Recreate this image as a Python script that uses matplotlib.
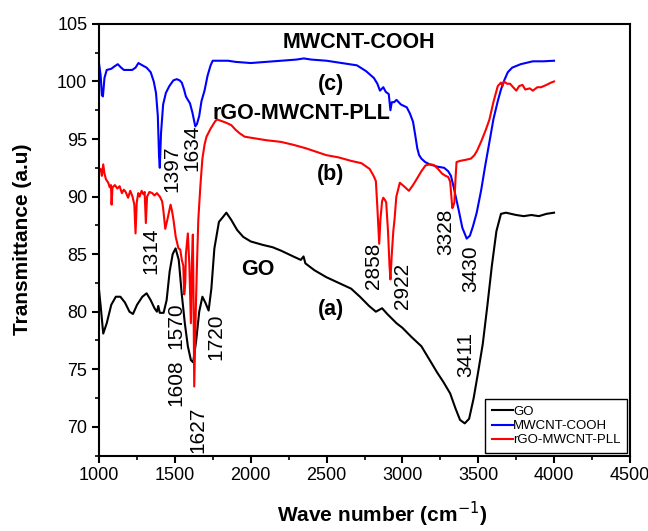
import numpy as np
import matplotlib
matplotlib.use("Agg")
import matplotlib.pyplot as plt
from matplotlib.ticker import MultipleLocator

plt.rcParams['font.family'] = ['Liberation Sans', 'DejaVu Sans']

# GO spectrum (wave number, transmittance)
go_wn = [1000, 1010, 1027, 1050, 1080, 1110, 1140, 1170, 1200, 1223, 1250, 1285,
         1313, 1340, 1365, 1381, 1390, 1400, 1425, 1445, 1465, 1485, 1504, 1525,
         1545, 1565, 1585, 1605, 1620, 1640, 1660, 1681, 1700, 1722, 1740, 1760,
         1790, 1815, 1839, 1870, 1910, 1950, 2000, 2080, 2144, 2200, 2280, 2330,
         2348, 2360, 2420, 2498, 2580, 2662, 2720, 2780, 2825, 2866, 2900, 2961,
         3000, 3060, 3125, 3180, 3230, 3270, 3315, 3350, 3380, 3411, 3440, 3470,
         3500, 3530, 3560, 3590, 3620, 3650, 3683, 3750, 3800, 3850, 3900, 3950,
         4000]
go_t = [81.8, 80.5, 78.1, 79.0, 80.6, 81.3, 81.3, 80.8, 80.0, 79.8, 80.6, 81.3,
        81.6, 81.0, 80.3, 80.0, 80.5, 79.9, 79.9, 81.0, 83.5, 85.0, 85.5, 84.5,
        81.5, 79.0, 77.0, 75.8, 75.6, 77.5, 80.0, 81.3, 80.8, 80.1, 82.0, 85.5,
        87.8, 88.2, 88.6, 88.0, 87.1, 86.5, 86.1, 85.8, 85.6, 85.3, 84.8, 84.5,
        84.8, 84.2, 83.6, 83.0, 82.5, 82.0, 81.3, 80.5, 80.0, 80.3, 79.8, 79.0,
        78.6, 77.8, 77.0, 75.8, 74.7, 73.9, 72.9, 71.6, 70.6, 70.3, 70.7, 72.5,
        74.8, 77.2, 80.5, 84.0, 87.0, 88.5, 88.6, 88.4, 88.3, 88.4, 88.3, 88.5,
        88.6]

# MWCNT-COOH spectrum
cnt_wn = [1000, 1010, 1018, 1025, 1035, 1050, 1080, 1100, 1123, 1145, 1163, 1190,
          1218, 1240, 1259, 1285, 1313, 1340, 1360, 1375, 1387, 1395, 1400, 1408,
          1422, 1440, 1463, 1490, 1512, 1530, 1545, 1560, 1572, 1585, 1599, 1615,
          1634, 1645, 1660, 1675, 1695, 1715, 1735, 1749, 1800, 1850, 1900, 2000,
          2100, 2200, 2300, 2350, 2400, 2500, 2600, 2700, 2760, 2812, 2835, 2852,
          2874, 2890, 2910, 2921, 2930, 2945, 2961, 2990, 3029, 3050, 3070, 3085,
          3098, 3110, 3125, 3150, 3179, 3230, 3275, 3302, 3320, 3335, 3355, 3370,
          3395, 3424, 3445, 3465, 3490, 3520, 3545, 3574, 3600, 3629, 3650, 3670,
          3695, 3724, 3780, 3860, 3930, 4000]
cnt_t = [101.5, 100.5, 98.8, 98.7, 100.3, 101.0, 101.1, 101.3, 101.5, 101.2, 101.0, 101.0,
         101.0, 101.2, 101.6, 101.4, 101.2, 100.8, 100.0, 99.0, 97.0, 93.5, 92.5, 95.5,
         98.0, 99.0, 99.6, 100.1, 100.2, 100.1, 99.9, 99.3, 98.7, 98.4, 98.1, 97.3,
         96.1, 96.3, 97.0, 98.3, 99.2, 100.5, 101.4, 101.8, 101.8, 101.8, 101.7, 101.6,
         101.7, 101.8, 101.9, 102.0, 101.9, 101.8, 101.6, 101.4, 100.9, 100.3, 99.8, 99.2,
         99.5, 99.1, 98.9, 97.5, 98.2, 98.2, 98.4, 98.0, 97.75, 97.2, 96.5, 95.3,
         94.2, 93.6, 93.3, 93.0, 92.8, 92.6, 92.5, 92.2, 91.8, 91.0, 89.8, 88.9,
         87.3, 86.35, 86.6, 87.4, 88.6, 90.6, 92.6, 94.75, 96.7, 98.3, 99.3, 100.05,
         100.8, 101.2, 101.5, 101.75, 101.75, 101.8]

# rGO-MWCNT-PLL spectrum
pll_wn = [1000, 1010, 1018, 1027, 1035, 1045, 1060, 1070, 1078, 1082, 1088, 1104,
          1120, 1135, 1150, 1163, 1175, 1191, 1205, 1220, 1232, 1240, 1248, 1258,
          1267, 1280, 1292, 1300, 1308, 1316, 1332, 1350, 1365, 1381, 1400, 1415,
          1422, 1436, 1450, 1471, 1480, 1490, 1505, 1523, 1535, 1545, 1555, 1561,
          1568, 1572, 1585, 1595, 1605, 1612, 1618, 1622, 1627, 1633, 1638, 1646,
          1654, 1668, 1681, 1695, 1708, 1735, 1763, 1776, 1800, 1840, 1872, 1900,
          1926, 1960, 2008, 2100, 2199, 2280, 2362, 2430, 2498, 2580, 2662, 2730,
          2784, 2810, 2825, 2835, 2847, 2855, 2866, 2874, 2885, 2893, 2905, 2915,
          2921, 2930, 2940, 2948, 2960, 2983, 3010, 3043, 3070, 3098, 3125, 3152,
          3180, 3207, 3235, 3261, 3285, 3302, 3315, 3329, 3336, 3343, 3350, 3357,
          3380, 3420, 3452, 3475, 3493, 3520, 3550, 3574, 3600, 3629, 3650, 3660,
          3670, 3690, 3710, 3730, 3751, 3770, 3792, 3810, 3840, 3860, 3890, 3915,
          3950, 3980, 4000]
pll_t = [92.2, 92.4, 91.8, 92.8, 92.0, 91.5, 91.2, 90.8, 91.0, 89.3, 90.8, 91.0,
         90.7, 90.9, 90.3, 90.6, 90.4, 89.9, 90.5, 90.0, 89.3, 86.8, 89.5, 90.3,
         90.0, 90.5, 90.2, 90.4, 87.7, 90.0, 90.4, 90.3, 90.1, 90.3, 90.0, 89.6,
         89.0, 87.2, 88.0, 89.3, 88.8, 88.0, 86.5, 85.5, 85.4, 84.5, 84.0, 81.5,
         82.5, 85.0, 86.8, 84.0, 79.0, 84.5, 86.7, 82.0, 73.5, 77.5, 80.5, 84.5,
         88.0, 91.0, 93.3, 94.5, 95.2, 95.9, 96.5, 96.7, 96.6, 96.4, 96.2, 95.8,
         95.5, 95.2, 95.1, 94.9, 94.75, 94.5, 94.2, 93.9, 93.6, 93.4, 93.1, 92.9,
         92.4, 91.8, 91.35, 89.0, 85.9, 88.0, 89.6, 89.9, 89.7, 89.5, 87.0, 84.0,
         82.8, 85.0, 87.0, 88.0, 90.0, 91.2, 90.9, 90.5, 91.0, 91.6, 92.2, 92.7,
         92.8, 92.75, 92.4, 92.0, 91.8, 91.7, 91.3, 89.0, 89.2, 89.5, 91.5, 93.0,
         93.1, 93.2, 93.3, 93.6, 94.0, 94.8, 95.8, 96.7, 98.2, 99.6, 99.9, 99.6,
         100.0, 99.8, 99.8, 99.5, 99.2, 99.6, 99.7, 99.3, 99.4, 99.2, 99.5, 99.5,
         99.7, 99.9, 100.0]

# peak labels: (text, x, y) placed vertically
peak_labels = [('1397', 1477, 92.4), ('1634', 1613, 94.2), ('1314', 1340, 85.3),
               ('1570', 1504, 78.8), ('1608', 1504, 73.8), ('1627', 1648, 69.7),
               ('1720', 1768, 77.8), ('2858', 2811, 84.0), ('2922', 3002, 82.2),
               ('3328', 3288, 86.9), ('3430', 3452, 83.7), ('3411', 3419, 76.3)]

# bold curve labels
curve_labels = [('MWCNT-COOH', 2716, 103.4), ('(c)', 2526, 99.75),
                ('rGO-MWCNT-PLL', 2335, 97.25), ('(b)', 2526, 91.95),
                ('GO', 2049, 83.7), ('(a)', 2526, 80.16)]

fig = plt.figure(figsize=(6.48, 5.31), dpi=100)
ax = fig.add_axes([0.153, 0.142, 0.819, 0.813])

ax.plot(go_wn, go_t, color='black', lw=1.5, label='GO')
ax.plot(cnt_wn, cnt_t, color='blue', lw=1.5, label='MWCNT-COOH')
ax.plot(pll_wn, pll_t, color='red', lw=1.5, label='rGO-MWCNT-PLL')

for txt, x, y in peak_labels:
    ax.text(x, y, txt, rotation=90, ha='center', va='center', fontsize=15)
for txt, x, y in curve_labels:
    ax.text(x, y, txt, ha='center', va='center', fontsize=15.5, fontweight='bold')

ax.set_xlim(1000, 4500)
ax.set_ylim(67.5, 105)
ax.xaxis.set_major_locator(MultipleLocator(500))
ax.xaxis.set_minor_locator(MultipleLocator(250))
ax.yaxis.set_major_locator(MultipleLocator(5))
ax.yaxis.set_minor_locator(MultipleLocator(2.5))
ax.tick_params(which='major', direction='out', length=5, width=1.5, labelsize=13)
ax.tick_params(which='minor', direction='out', length=3, width=1.2)
for s in ax.spines.values():
    s.set_linewidth(1.5)

ax.set_xlabel('Wave number (cm$^{-1}$)', fontsize=15, fontweight='bold')
ax.xaxis.set_label_coords(0.533, -0.103)
ax.set_ylabel('Transmittance (a.u)', fontsize=15, fontweight='bold', labelpad=18)

leg = ax.legend(loc='lower right', fontsize=9.5, handlelength=1.6, handletextpad=0,
                borderaxespad=0.2, fancybox=False, edgecolor='black', framealpha=1,
                labelspacing=0.15, borderpad=0.5)
leg.get_frame().set_linewidth(1.0)

fig.savefig('out.png', dpi=100)
